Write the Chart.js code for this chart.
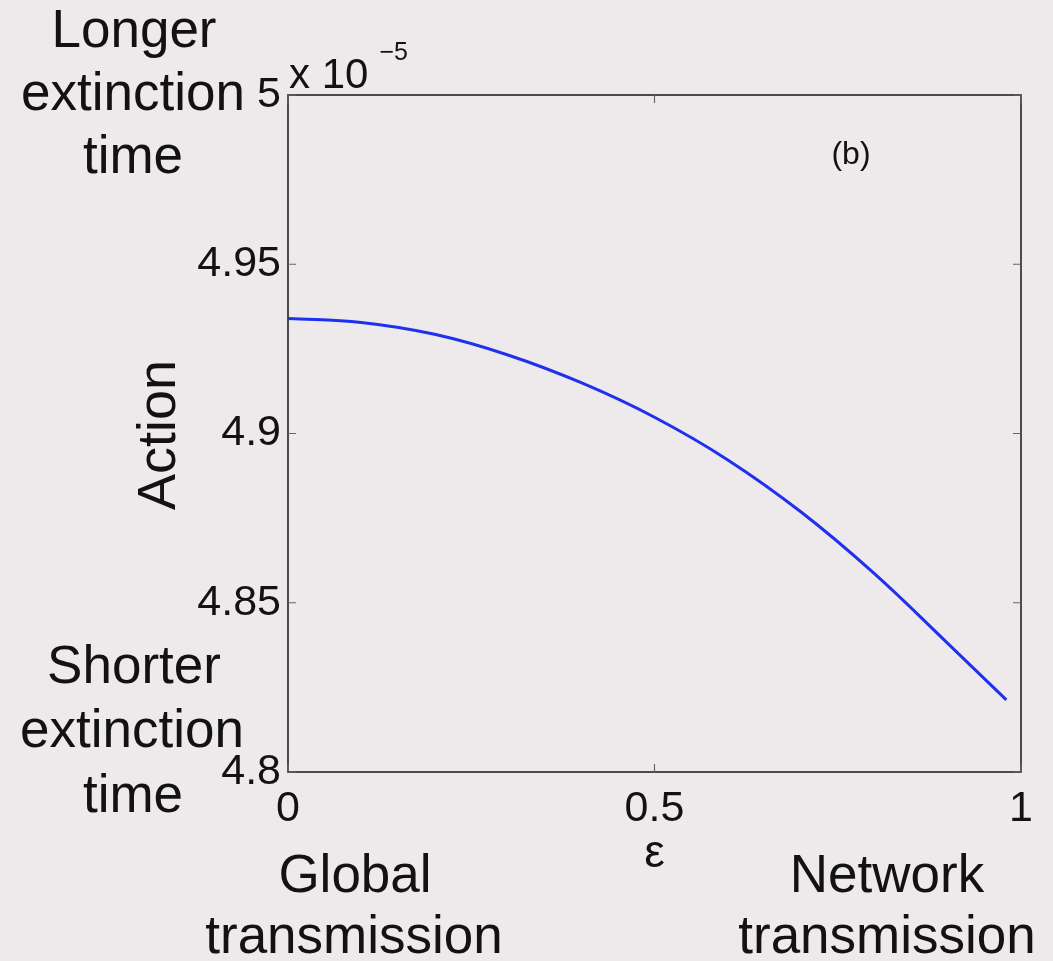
<!DOCTYPE html>
<html>
<head>
<meta charset="utf-8">
<title>Action vs epsilon</title>
<script src="https://cdn.jsdelivr.net/npm/chart.js@4.4.1/dist/chart.umd.min.js"></script>
<style>
  html, body { margin: 0; padding: 0; background: #eeeaeb; }
  canvas { display: block; }
</style>
</head>
<body>
<canvas id="chart" width="1053" height="961"></canvas>
<script>
// Mixing parameter epsilon (0 = global transmission, 1 = network transmission)
const epsilon = [0, 0.1, 0.2, 0.3, 0.4, 0.5, 0.6, 0.7, 0.8, 0.9, 0.98];
// Action, in units of 1e-5
const action = [4.9340, 4.9328, 4.9293, 4.9232, 4.9150, 4.9048, 4.8922, 4.8768, 4.8586, 4.8380, 4.8213];
// Tick labels
const xTicks = [0, 0.5, 1];
const yTicks = [4.8, 4.85, 4.9, 4.95, 5];

const FONT = '"Liberation Sans", Arial, Helvetica, sans-serif';
const INK = '#121212';
const BG = '#eeeaeb';

const points = epsilon.map((e, i) => ({ x: e, y: action[i] }));

// Page background
const backgroundPlugin = {
  id: 'pageBackground',
  beforeDraw(chart) {
    const ctx = chart.ctx;
    ctx.save();
    ctx.fillStyle = BG;
    ctx.fillRect(0, 0, chart.width, chart.height);
    ctx.restore();
  }
};

// Boxed axes with inward tick marks on all four sides
const frameTicksPlugin = {
  id: 'frameTicks',
  afterDraw(chart) {
    const { ctx, chartArea: a, scales } = chart;
    const len = 8;
    ctx.save();
    ctx.strokeStyle = '#3a3a3a';
    ctx.lineWidth = 1.8;
    ctx.strokeRect(a.left, a.top, a.right - a.left, a.bottom - a.top);
    ctx.lineWidth = 1.2;
    ctx.strokeStyle = '#666';
    ctx.beginPath();
    yTicks.forEach(v => {
      const y = scales.y.getPixelForValue(v);
      ctx.moveTo(a.left, y); ctx.lineTo(a.left + len, y);
      ctx.moveTo(a.right, y); ctx.lineTo(a.right - len, y);
    });
    xTicks.forEach(v => {
      const x = scales.x.getPixelForValue(v);
      ctx.moveTo(x, a.bottom); ctx.lineTo(x, a.bottom - len);
      ctx.moveTo(x, a.top); ctx.lineTo(x, a.top + len);
    });
    ctx.stroke();
    ctx.restore();
  }
};

// Axis titles, exponent, panel tag and explanatory side notes
const annotationPlugin = {
  id: 'annotations',
  afterDraw(chart) {
    const { ctx, chartArea: a, scales } = chart;
    ctx.save();
    ctx.fillStyle = INK;
    ctx.textBaseline = 'alphabetic';

    // Exponent multiplier above the y axis
    ctx.textAlign = 'left';
    ctx.font = '42px ' + FONT;
    ctx.fillText('x 10', a.left + 1, a.top - 7);
    const w = ctx.measureText('x 10').width;
    ctx.font = '25px ' + FONT;
    ctx.fillText('\u22125', a.left + w + 12, a.top - 35);

    // Panel tag
    ctx.textAlign = 'center';
    ctx.font = '32px ' + FONT;
    ctx.fillText('(b)', 851, 164);

    // y axis title
    ctx.save();
    ctx.translate(175, 435);
    ctx.rotate(-Math.PI / 2);
    ctx.font = '54px ' + FONT;
    ctx.textAlign = 'center';
    ctx.fillText('Action', 0, 0);
    ctx.restore();

    // x axis title
    ctx.font = '46px ' + FONT;
    ctx.textAlign = 'center';
    ctx.fillText('\u03b5', scales.x.getPixelForValue(0.5), 867);

    // Side notes
    ctx.font = '53px ' + FONT;
    ctx.textAlign = 'center';
    ctx.fillText('Longer', 134, 47);
    ctx.fillText('extinction', 133, 110);
    ctx.fillText('time', 133, 173);

    ctx.fillText('Shorter', 134, 683);
    ctx.fillText('extinction', 132, 747);
    ctx.fillText('time', 133, 812);

    ctx.fillText('Global', 355, 892);
    ctx.fillText('transmission', 354, 953);
    ctx.fillText('Network', 887, 892);
    ctx.fillText('transmission', 887, 953);

    ctx.restore();
  }
};

new Chart(document.getElementById('chart'), {
  type: 'line',
  data: {
    datasets: [{
      data: points,
      borderColor: '#1f30ee',
      borderWidth: 3,
      pointRadius: 0,
      fill: false,
      tension: 0.4
    }]
  },
  options: {
    responsive: false,
    animation: false,
    events: [],
    layout: { padding: { left: 0, right: 32, top: 95, bottom: 0 } },
    plugins: {
      legend: { display: false },
      tooltip: { enabled: false },
      title: { display: false }
    },
    scales: {
      x: {
        type: 'linear',
        min: 0,
        max: 1,
        afterBuildTicks: s => { s.ticks = xTicks.map(v => ({ value: v })); },
        afterFit: s => { s.height = 189; },
        grid: { display: false, drawTicks: false },
        border: { display: false },
        ticks: {
          font: { family: FONT, size: 43 },
          color: INK,
          padding: 11,
          maxRotation: 0,
          autoSkip: false,
          callback: v => String(v)
        }
      },
      y: {
        type: 'linear',
        min: 4.8,
        max: 5,
        afterBuildTicks: s => { s.ticks = yTicks.map(v => ({ value: v })); },
        afterFit: s => { s.width = 288; },
        grid: { display: false, drawTicks: false },
        border: { display: false },
        ticks: {
          font: { family: FONT, size: 43 },
          color: INK,
          padding: 7,
          autoSkip: false,
          callback: v => String(Math.round(v * 100) / 100)
        }
      }
    }
  },
  plugins: [backgroundPlugin, frameTicksPlugin, annotationPlugin]
});
</script>
</body>
</html>
